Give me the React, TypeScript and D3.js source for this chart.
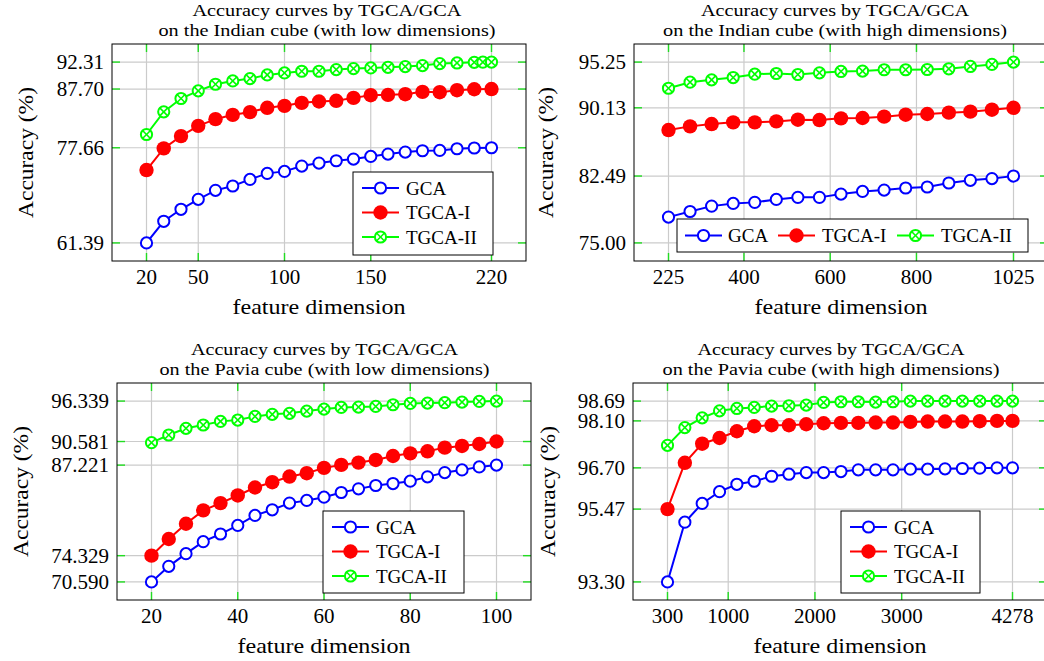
import React from 'react';
import * as d3 from 'd3';

// ---------------- DATA ----------------
const seriesNames = ['GCA', 'TGCA-I', 'TGCA-II'];

// Indian cube, low dimensions
const indianLowX = [20, 30, 40, 50, 60, 70, 80, 90, 100, 110, 120, 130, 140, 150, 160, 170, 180, 190, 200, 210, 220];
const indianLowXII = [20, 30, 40, 50, 60, 70, 80, 90, 100, 110, 120, 130, 140, 150, 160, 170, 180, 190, 200, 210, 215, 220];
const indianLowGCA = [61.39, 65.09, 67.14, 68.84, 70.38, 71.12, 72.25, 73.28, 73.62, 74.53, 75.04, 75.44, 75.72, 76.18, 76.58, 76.92, 77.15, 77.2, 77.49, 77.62, 77.66];
const indianLowTI = [73.85, 77.55, 79.65, 81.41, 82.55, 83.29, 83.75, 84.49, 84.83, 85.34, 85.57, 85.69, 86.19, 86.65, 86.71, 86.82, 87.22, 87.16, 87.5, 87.67, 87.7];
const indianLowTII = [79.93, 83.8, 86.08, 87.39, 88.52, 89.09, 89.49, 90.12, 90.46, 90.74, 90.74, 91.03, 91.2, 91.31, 91.42, 91.54, 91.71, 92.05, 92.16, 92.27, 92.3, 92.31];
const indianLowXTicks = [20, 50, 100, 150, 220];
const indianLowYTicks = [61.39, 77.66, 87.7, 92.31];
const indianLowYLabels = ['61.39', '77.66', '87.70', '92.31'];

// Indian cube, high dimensions
const indianHighX = [225, 275, 325, 375, 425, 475, 525, 575, 625, 675, 725, 775, 825, 875, 925, 975, 1025];
const indianHighGCA = [77.89, 78.52, 79.12, 79.42, 79.54, 79.87, 80.1, 80.1, 80.47, 80.77, 80.92, 81.15, 81.26, 81.71, 82.01, 82.2, 82.49];
const indianHighTI = [87.64, 88.05, 88.31, 88.5, 88.5, 88.61, 88.8, 88.76, 88.95, 88.99, 89.14, 89.36, 89.44, 89.59, 89.7, 89.92, 90.13];
const indianHighTII = [92.32, 93.0, 93.26, 93.52, 93.9, 93.97, 93.86, 94.05, 94.2, 94.24, 94.39, 94.39, 94.42, 94.5, 94.76, 94.99, 95.25];
const indianHighXTicks = [225, 400, 600, 800, 1025];
const indianHighYTicks = [75.0, 82.49, 90.13, 95.25];
const indianHighYLabels = ['75.00', '82.49', '90.13', '95.25'];

// Pavia cube, low dimensions
const paviaLowX = [20, 24, 28, 32, 36, 40, 44, 48, 52, 56, 60, 64, 68, 72, 76, 80, 84, 88, 92, 96, 100];
const paviaLowGCA = [70.59, 72.81, 74.61, 76.32, 77.41, 78.64, 80.06, 80.86, 81.81, 82.19, 82.66, 83.32, 83.84, 84.32, 84.6, 84.93, 85.55, 86.16, 86.54, 86.97, 87.221];
const paviaLowTI = [74.329, 76.7, 78.87, 80.77, 81.81, 82.9, 84.03, 84.79, 85.59, 86.07, 86.83, 87.25, 87.58, 87.96, 88.52, 88.9, 89.19, 89.71, 89.95, 90.23, 90.581];
const paviaLowTII = [90.42, 91.51, 92.46, 92.93, 93.45, 93.64, 94.16, 94.45, 94.59, 94.92, 95.2, 95.44, 95.49, 95.58, 95.82, 96.01, 96.06, 96.11, 96.2, 96.29, 96.339];
const paviaLowXTicks = [20, 40, 60, 80, 100];
const paviaLowYTicks = [70.59, 74.329, 87.221, 90.581, 96.339];
const paviaLowYLabels = ['70.590', '74.329', '87.221', '90.581', '96.339'];

// Pavia cube, high dimensions
const paviaHighX = [300, 500, 700, 900, 1100, 1300, 1500, 1700, 1900, 2100, 2300, 2500, 2700, 2900, 3100, 3300, 3500, 3700, 3900, 4100, 4278];
const paviaHighGCA = [93.3, 95.08, 95.64, 95.99, 96.21, 96.3, 96.45, 96.51, 96.56, 96.56, 96.59, 96.64, 96.64, 96.64, 96.66, 96.66, 96.67, 96.68, 96.69, 96.7, 96.7];
const paviaHighTI = [95.47, 96.85, 97.42, 97.59, 97.79, 97.94, 97.97, 97.97, 98.0, 98.03, 98.04, 98.04, 98.05, 98.05, 98.07, 98.08, 98.08, 98.08, 98.09, 98.1, 98.1];
const paviaHighTII = [97.37, 97.9, 98.19, 98.4, 98.47, 98.5, 98.54, 98.55, 98.57, 98.65, 98.67, 98.67, 98.66, 98.67, 98.69, 98.69, 98.69, 98.69, 98.69, 98.69, 98.69];
const paviaHighXTicks = [300, 1000, 2000, 3000, 4278];
const paviaHighYTicks = [93.3, 95.47, 96.7, 98.1, 98.69];
const paviaHighYLabels = ['93.30', '95.47', '96.70', '98.10', '98.69'];

// ---------------- STYLE / LAYOUT ----------------
const BLUE = '#0000ff';
const RED = '#ff0000';
const GREEN = '#00ff00';
const TICKGREEN = '#22dd22';
const GRID = '#cbcbcb';
const FONT = "'Liberation Serif', 'Times New Roman', Times, serif";
const W = 414;
const H = 217;

type Legend = {
  kind: 'v' | 'h';
  bx: number; by: number; bw: number; bh: number;
};

type PanelSpec = {
  left: number; top: number;
  title1: string; title2: string; titleX: number; t1w: number; t2w: number;
  xs: number[][]; ys: number[][];
  xTicks: number[]; yTicks: number[]; yLabels: string[];
  ylabelX: number;
  legend: Legend;
};

const panels: PanelSpec[] = [
  {
    left: 112, top: 44,
    title1: 'Accuracy curves by TGCA/GCA', title2: 'on the Indian cube (with low dimensions)',
    titleX: 327, t1w: 269, t2w: 337,
    xs: [indianLowX, indianLowX, indianLowXII], ys: [indianLowGCA, indianLowTI, indianLowTII],
    xTicks: indianLowXTicks, yTicks: indianLowYTicks, yLabels: indianLowYLabels,
    ylabelX: 33,
    legend: { kind: 'v', bx: 353, by: 172, bw: 140, bh: 83 },
  },
  {
    left: 634, top: 44,
    title1: 'Accuracy curves by TGCA/GCA', title2: 'on the Indian cube (with high dimensions)',
    titleX: 835, t1w: 268, t2w: 344,
    xs: [indianHighX, indianHighX, indianHighX], ys: [indianHighGCA, indianHighTI, indianHighTII],
    xTicks: indianHighXTicks, yTicks: indianHighYTicks, yLabels: indianHighYLabels,
    ylabelX: 553,
    legend: { kind: 'h', bx: 677, by: 219, bw: 351, bh: 33 },
  },
  {
    left: 117, top: 383,
    title1: 'Accuracy curves by TGCA/GCA', title2: 'on the Pavia cube (with low dimensions)',
    titleX: 324.5, t1w: 267, t2w: 330,
    xs: [paviaLowX, paviaLowX, paviaLowX], ys: [paviaLowGCA, paviaLowTI, paviaLowTII],
    xTicks: paviaLowXTicks, yTicks: paviaLowYTicks, yLabels: paviaLowYLabels,
    ylabelX: 28,
    legend: { kind: 'v', bx: 323, by: 511, bw: 141, bh: 82 },
  },
  {
    left: 633, top: 383,
    title1: 'Accuracy curves by TGCA/GCA', title2: 'on the Pavia cube (with high dimensions)',
    titleX: 831, t1w: 267, t2w: 337,
    xs: [paviaHighX, paviaHighX, paviaHighX], ys: [paviaHighGCA, paviaHighTI, paviaHighTII],
    xTicks: paviaHighXTicks, yTicks: paviaHighYTicks, yLabels: paviaHighYLabels,
    ylabelX: 555,
    legend: { kind: 'v', bx: 841, by: 511, bw: 139, bh: 82 },
  },
];

const colors = [BLUE, RED, GREEN];

function Marker({ kind, cx, cy }: { kind: number; cx: number; cy: number }) {
  if (kind === 0) {
    return <circle cx={cx} cy={cy} r={5.6} fill="#fff" stroke={BLUE} strokeWidth={2} />;
  }
  if (kind === 1) {
    return <circle cx={cx} cy={cy} r={7.2} fill={RED} stroke="none" />;
  }
  const d = 5.6 * 0.7071;
  return (
    <g>
      <circle cx={cx} cy={cy} r={5.6} fill="#fff" stroke={GREEN} strokeWidth={2} />
      <line x1={cx - d} y1={cy - d} x2={cx + d} y2={cy + d} stroke={GREEN} strokeWidth={1.6} />
      <line x1={cx - d} y1={cy + d} x2={cx + d} y2={cy - d} stroke={GREEN} strokeWidth={1.6} />
    </g>
  );
}

function enlarged(vals: number[]): [number, number] {
  const [a, b] = d3.extent(vals) as [number, number];
  const r = b - a;
  return [a - 0.1 * r, b + 0.1 * r];
}

function Panel({ p }: { p: PanelSpec }) {
  const x = d3.scaleLinear().domain(enlarged([...p.xs.flat(), ...p.xTicks])).range([p.left, p.left + W]);
  const y = d3.scaleLinear().domain(enlarged([...p.ys.flat(), ...p.yTicks])).range([p.top + H, p.top]);
  const line = d3.line<[number, number]>().x((d) => x(d[0])).y((d) => y(d[1]));
  const right = p.left + W;
  const bottom = p.top + H;
  const TL = 8;
  const lg = p.legend;
  const fs = { fontFamily: FONT };

  const legendItems = seriesNames.map((name, i) => {
    let lx: number, ly: number, tx: number;
    if (lg.kind === 'v') {
      lx = lg.bx + 9;
      ly = lg.by + 16 + i * 24.5;
      tx = lg.bx + 53;
    } else {
      const offs = [8, 101, 220];
      const toffs = [51, 145, 264];
      lx = lg.bx + offs[i];
      ly = lg.by + 16.5;
      tx = lg.bx + toffs[i];
    }
    return (
      <g key={name}>
        <line x1={lx} y1={ly} x2={lx + 37} y2={ly} stroke={colors[i]} strokeWidth={2} />
        <Marker kind={i} cx={lx + 18.5} cy={ly} />
        <text x={tx} y={ly + 6.5} style={fs} fontSize={19} fill="#000">{name}</text>
      </g>
    );
  });

  return (
    <g>
      {/* titles */}
      <text x={p.titleX} y={p.top - 28} textAnchor="middle" style={fs} fontSize={16.5}
        textLength={p.t1w} lengthAdjust="spacingAndGlyphs">{p.title1}</text>
      <text x={p.titleX} y={p.top - 8} textAnchor="middle" style={fs} fontSize={16.5}
        textLength={p.t2w} lengthAdjust="spacingAndGlyphs">{p.title2}</text>
      {/* grid */}
      {p.xTicks.map((t) => (
        <line key={'gx' + t} x1={x(t)} x2={x(t)} y1={p.top} y2={bottom} stroke={GRID} strokeWidth={1.2} />
      ))}
      {p.yTicks.map((t) => (
        <line key={'gy' + t} x1={p.left} x2={right} y1={y(t)} y2={y(t)} stroke={GRID} strokeWidth={1.2} />
      ))}
      {/* ticks */}
      {p.xTicks.map((t) => (
        <g key={'tx' + t}>
          <line x1={x(t)} x2={x(t)} y1={bottom} y2={bottom - TL} stroke={TICKGREEN} strokeWidth={1.4} />
          <line x1={x(t)} x2={x(t)} y1={p.top} y2={p.top + TL} stroke={TICKGREEN} strokeWidth={1.4} />
          <text x={x(t)} y={bottom + 23} textAnchor="middle" style={fs} fontSize={21}>{t}</text>
        </g>
      ))}
      {p.yTicks.map((t, i) => (
        <g key={'ty' + t}>
          <line x1={p.left} x2={p.left + TL} y1={y(t)} y2={y(t)} stroke={TICKGREEN} strokeWidth={1.4} />
          <line x1={right} x2={right - TL} y1={y(t)} y2={y(t)} stroke={TICKGREEN} strokeWidth={1.4} />
          <text x={p.left - 8} y={y(t) + 7} textAnchor="end" style={fs} fontSize={21}>{p.yLabels[i]}</text>
        </g>
      ))}
      {/* series */}
      {p.ys.map((ys, si) => {
        const pts: [number, number][] = ys.map((v, k) => [p.xs[si][k], v]);
        return (
          <g key={'s' + si}>
            <path d={line(pts) || ''} fill="none" stroke={colors[si]} strokeWidth={2} />
            {pts.map((d, k) => (
              <Marker key={k} kind={si} cx={x(d[0])} cy={y(d[1])} />
            ))}
          </g>
        );
      })}
      {/* frame */}
      <rect x={p.left} y={p.top} width={W} height={H} fill="none" stroke="#000" strokeWidth={1} />
      {/* axis labels */}
      <text x={p.left + W / 2} y={bottom + 53} textAnchor="middle" style={fs} fontSize={21}
        textLength={173} lengthAdjust="spacingAndGlyphs">feature dimension</text>
      <text x={p.ylabelX} y={p.top + H / 2} textAnchor="middle" style={fs} fontSize={21}
        textLength={131} lengthAdjust="spacingAndGlyphs"
        transform={`rotate(-90, ${p.ylabelX}, ${p.top + H / 2})`}>Accuracy (%)</text>
      {/* legend */}
      <rect x={lg.bx} y={lg.by} width={lg.bw} height={lg.bh} fill="#fff" stroke="#000" strokeWidth={1} />
      {legendItems}
    </g>
  );
}

export default function App() {
  return (
    <svg width={1044} height={661} style={{ position: 'absolute', left: 0, top: 0, background: '#fff' }}>
      <rect x={0} y={0} width={1044} height={661} fill="#fff" />
      {panels.map((p, i) => (
        <Panel key={i} p={p} />
      ))}
    </svg>
  );
}
